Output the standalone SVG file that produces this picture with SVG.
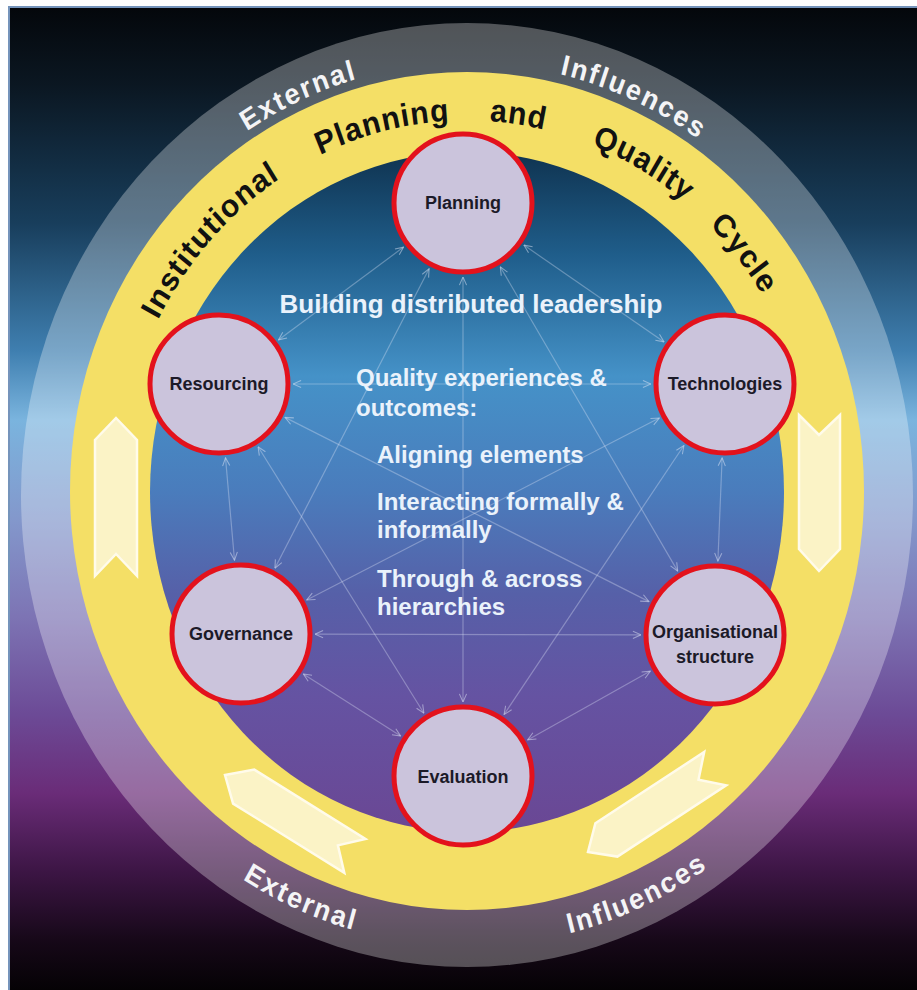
<svg xmlns="http://www.w3.org/2000/svg" xmlns:xlink="http://www.w3.org/1999/xlink" width="917" height="990" viewBox="0 0 917 990">
  <defs>
    <linearGradient id="bg" gradientUnits="userSpaceOnUse" x1="0" y1="7" x2="0" y2="990">
      <stop offset="0" stop-color="#04070b"/>
      <stop offset="0.08" stop-color="#0b1722"/>
      <stop offset="0.22" stop-color="#183e5c"/>
      <stop offset="0.35" stop-color="#3f7fb0"/>
      <stop offset="0.42" stop-color="#7ab4de"/>
      <stop offset="0.52" stop-color="#8398cc"/>
      <stop offset="0.62" stop-color="#7d74b4"/>
      <stop offset="0.72" stop-color="#6c4a96"/>
      <stop offset="0.80" stop-color="#6a2c78"/>
      <stop offset="0.88" stop-color="#3c1544"/>
      <stop offset="0.95" stop-color="#160818"/>
      <stop offset="1" stop-color="#050205"/>
    </linearGradient>
    <linearGradient id="disc" gradientUnits="userSpaceOnUse" x1="0" y1="152" x2="0" y2="832">
      <stop offset="0" stop-color="#0f3350"/>
      <stop offset="0.15" stop-color="#1f5d8a"/>
      <stop offset="0.33" stop-color="#4592c8"/>
      <stop offset="0.5" stop-color="#4a7cbc"/>
      <stop offset="0.65" stop-color="#5660a8"/>
      <stop offset="0.8" stop-color="#6553a2"/>
      <stop offset="1" stop-color="#6a4794"/>
    </linearGradient>
    <path id="yTop" d="M -348,0 A 348,348 0 0 1 348,0"/>
    <path id="gTop" d="M -406,0 A 406,406 0 0 1 406,0"/>
    <path id="gBot" d="M -428,0 A 428,428 0 0 0 428,0"/>
    <marker id="ah" viewBox="0 0 10 10" refX="9.5" refY="5" markerWidth="9" markerHeight="9" markerUnits="userSpaceOnUse" orient="auto-start-reverse">
      <path d="M0.5,1 L9.5,5 L0.5,9" fill="none" stroke="#dfe6f5" stroke-opacity="0.5" stroke-width="1.2"/>
    </marker>
    <style>
      .ring-y { font-family: "Liberation Sans", Arial, sans-serif; font-weight: bold; font-size: 30px; fill: #111111; letter-spacing: 1px; }
      .ring-g { font-family: "Liberation Sans", Arial, sans-serif; font-weight: bold; font-size: 27px; fill: #f4f4f6; letter-spacing: 2px; }
      .cycle-arrow { fill: #fbf3c6; stroke: #fffbea; stroke-width: 2.5; stroke-linejoin: miter; }
      .conn line { stroke: #dfe6f5; stroke-opacity: 0.35; stroke-width: 1.2; marker-start: url(#ah); marker-end: url(#ah); }
      .node circle { fill: #cbc4dc; stroke: #e3121c; stroke-width: 5; }
      .node text { font-family: "Liberation Sans", Arial, sans-serif; font-weight: bold; font-size: 18px; fill: #1c1a28; text-anchor: middle; }
      .ctext { font-family: "Liberation Sans", Arial, sans-serif; font-weight: bold; fill: #eaf2fb; }
    </style>
  </defs>

  <rect x="0" y="0" width="917" height="990" fill="#ffffff"/>
  <rect x="9" y="7" width="908" height="983" fill="url(#bg)"/>

  <g id="rings">
    <ellipse cx="467" cy="495" rx="446" ry="472" fill="#ffffff" fill-opacity="0.3"/>
    <ellipse cx="467" cy="491" rx="397" ry="419" fill="#f4df66"/>
    <ellipse cx="467" cy="492" rx="317" ry="340" fill="url(#disc)"/>
  </g>

  <g id="ring-text-yellow" transform="translate(467,491) scale(1,1.065)">
    <text class="ring-y" text-anchor="middle"><textPath href="#yTop" xlink:href="#yTop" startOffset="258">Institutional</textPath></text>
    <text class="ring-y" text-anchor="middle"><textPath href="#yTop" xlink:href="#yTop" startOffset="462">Planning</textPath></text>
    <text class="ring-y" text-anchor="middle"><textPath href="#yTop" xlink:href="#yTop" startOffset="597">and</textPath></text>
    <text class="ring-y" text-anchor="middle"><textPath href="#yTop" xlink:href="#yTop" startOffset="728">Quality</textPath></text>
    <text class="ring-y" text-anchor="middle"><textPath href="#yTop" xlink:href="#yTop" startOffset="857">Cycle</textPath></text>
  </g>

  <g id="ring-text-grey" transform="translate(467,493) scale(1,1.06)">
    <text class="ring-g" text-anchor="middle"><textPath href="#gTop" xlink:href="#gTop" startOffset="466">External</textPath></text>
    <text class="ring-g" text-anchor="middle"><textPath href="#gTop" xlink:href="#gTop" startOffset="808">Influences</textPath></text>
    <text class="ring-g" text-anchor="middle"><textPath href="#gBot" xlink:href="#gBot" startOffset="497">External</textPath></text>
    <text class="ring-g" text-anchor="middle"><textPath href="#gBot" xlink:href="#gBot" startOffset="852">Influences</textPath></text>
  </g>

  <g id="cycle-arrows">
    <polygon class="cycle-arrow" points="116,418 137,440 137,576 116,554 95,576 95,440"/>
    <polygon class="cycle-arrow" points="799,415 819,435 840,415 840,549 819,571 799,549"/>
    <polygon class="cycle-arrow" points="225,775 254.3,769.6 365.5,838.9 337.9,845.4 344.3,872.9 233.1,803.6"/>
    <polygon class="cycle-arrow" points="588,852 617.4,856.6 726.2,785.4 698.5,779.7 704.2,752 595.4,823.2"/>
  </g>

  <g id="connectors" class="conn">
    <line x1="403.6" y1="247.1" x2="278.4" y2="339.9"/>
    <line x1="523.9" y1="245.1" x2="664.1" y2="341.9"/>
    <line x1="429.1" y1="268.8" x2="274.9" y2="568.2"/>
    <line x1="500.3" y1="266.9" x2="677.7" y2="571.1"/>
    <line x1="463" y1="277" x2="463" y2="702"/>
    <line x1="293" y1="384" x2="651" y2="384"/>
    <line x1="225.5" y1="457.7" x2="234.5" y2="560.3"/>
    <line x1="285" y1="417.4" x2="649" y2="601.6"/>
    <line x1="258.1" y1="446.8" x2="423.9" y2="713.2"/>
    <line x1="659.3" y1="418" x2="306.7" y2="600"/>
    <line x1="722.1" y1="457.9" x2="717.9" y2="561.1"/>
    <line x1="683.9" y1="445.5" x2="504.1" y2="714.5"/>
    <line x1="315" y1="634.2" x2="641" y2="634.8"/>
    <line x1="303.3" y1="673.9" x2="400.7" y2="736.1"/>
    <line x1="650.4" y1="671.1" x2="527.6" y2="739.9"/>
  </g>

  <g id="center-text">
    <text class="ctext" x="471" y="313" font-size="26" text-anchor="middle">Building distributed leadership</text>
    <text class="ctext" x="356" y="386" font-size="24">Quality experiences &amp;</text>
    <text class="ctext" x="356" y="416" font-size="24">outcomes:</text>
    <text class="ctext" x="377" y="463" font-size="24">Aligning elements</text>
    <text class="ctext" x="377" y="510" font-size="24">Interacting formally &amp;</text>
    <text class="ctext" x="377" y="538" font-size="24">informally</text>
    <text class="ctext" x="377" y="587" font-size="24">Through &amp; across</text>
    <text class="ctext" x="377" y="615" font-size="24">hierarchies</text>
  </g>

  <g id="node-planning" class="node">
    <circle cx="463" cy="203" r="69"/>
    <text x="463" y="209">Planning</text>
  </g>
  <g id="node-resourcing" class="node">
    <circle cx="219" cy="384" r="69"/>
    <text x="219" y="390">Resourcing</text>
  </g>
  <g id="node-technologies" class="node">
    <circle cx="725" cy="384" r="69"/>
    <text x="725" y="390">Technologies</text>
  </g>
  <g id="node-governance" class="node">
    <circle cx="241" cy="634" r="69"/>
    <text x="241" y="640">Governance</text>
  </g>
  <g id="node-organisational" class="node">
    <circle cx="715" cy="635" r="69"/>
    <text x="715" y="638">Organisational</text>
    <text x="715" y="663">structure</text>
  </g>
  <g id="node-evaluation" class="node">
    <circle cx="463" cy="776" r="69"/>
    <text x="463" y="783">Evaluation</text>
  </g>

  <rect x="9" y="7" width="909" height="984" fill="none" stroke="#7594bb" stroke-width="2"/>
</svg>
